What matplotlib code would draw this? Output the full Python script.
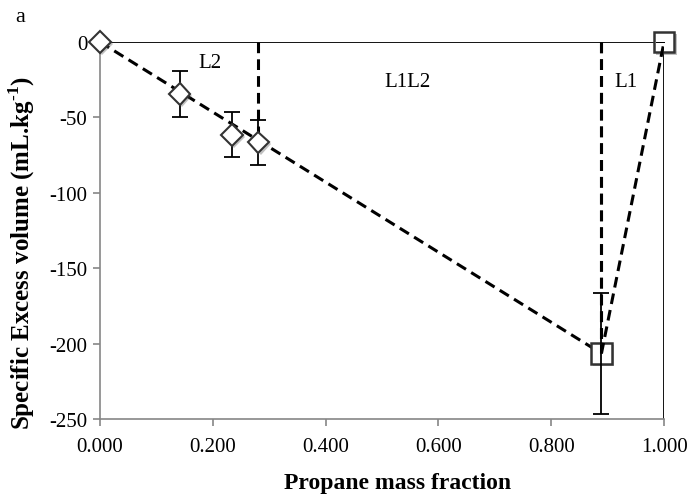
import matplotlib
matplotlib.use('Agg')
import matplotlib.pyplot as plt
import matplotlib.patheffects as pe
from matplotlib.ticker import FormatStrFormatter

plt.rcParams['font.family'] = ['Liberation Serif', 'DejaVu Serif']
plt.rcParams['axes.unicode_minus'] = False
plt.rcParams['mathtext.fontset'] = 'custom'
plt.rcParams['mathtext.rm'] = 'Liberation Serif:bold'
plt.rcParams['mathtext.bf'] = 'Liberation Serif:bold'

# measured points (L2 phase side)
frac_l2 = [0.0, 0.141, 0.234, 0.281]
vol_l2 = [0.0, -34.5, -61.5, -66.5]
err_l2 = [0.0, 15.0, 15.0, 15.0]

# L1 side points
frac_l1 = [0.889, 1.0]
vol_l1 = [-206.5, 0.0]
err_l1 = [40.0, 0.0]

# phase boundary lines
bound_x = [0.281, 0.889]
bound_y = [-66.5, -206.5]

region_labels = ['L2', 'L1L2', 'L1']
region_x = [0.195, 0.546, 0.933]
region_y = [-13.5, -26, -26.5]

fig = plt.figure(figsize=(6.91, 5.02), dpi=100)
ax = fig.add_axes([0.1447, 0.1633, 0.8163, 0.751])

dash = dict(color='black', lw=2.2, dashes=(3.5, 2))
# tie lines
ax.plot([frac_l2[0], frac_l1[0]], [vol_l2[0], vol_l1[0]], **dash, zorder=3)
for bx, by in zip(bound_x, bound_y):
    ax.plot([bx, bx], [0, by], **dash, zorder=3)

# solid frame lines at top and right
ax.plot([0, 1], [0, 0], color='black', lw=1.3, zorder=2)
ax.plot([1, 1], [0, -250], color='black', lw=1.3, zorder=2)

shadow = [pe.SimplePatchShadow(offset=(1.5, -1.5), alpha=0.35), pe.Normal()]
ax.errorbar(frac_l2, vol_l2, yerr=err_l2, fmt='none', ecolor='black',
            elinewidth=1.3, capsize=6, capthick=1.3, zorder=4)
ax.plot(frac_l2, vol_l2, 'D', ms=11, mfc='white', mec='#333333', mew=1.5, zorder=5,
        path_effects=shadow, clip_on=False)
ax.plot(frac_l1, vol_l1, 's', ms=15, mfc='white', mec='#333333', mew=1.8, zorder=5,
        path_effects=shadow, clip_on=False)
ax.errorbar(frac_l1, vol_l1, yerr=err_l1, fmt='none', ecolor='black',
            elinewidth=1.3, capsize=6, capthick=1.3, zorder=6)
ax.plot([frac_l1[0], frac_l1[1]], [vol_l1[0], vol_l1[1]], **dash, zorder=6)
ax.plot([bound_x[1], bound_x[1]], [0, bound_y[1]], **dash, zorder=6)

for t, x, y in zip(region_labels, region_x, region_y):
    ax.text(x, y, t, fontsize=15, ha='center', va='center')

ax.set_xlim(0, 1)
ax.set_ylim(-250, 0)
ax.set_xticks([0, 0.2, 0.4, 0.6, 0.8, 1.0])
ax.set_yticks([-250, -200, -150, -100, -50, 0])
ax.xaxis.set_major_formatter(FormatStrFormatter('%.3f'))
for s in ['top', 'right']:
    ax.spines[s].set_visible(False)
for s in ['left', 'bottom']:
    ax.spines[s].set_color('#868686')
    ax.spines[s].set_linewidth(1.2)
ax.tick_params(direction='out', length=5, color='#868686', labelsize=15, width=1.2)
ax.tick_params(axis='x', pad=8)
ax.tick_params(axis='y', pad=4)
ax.set_xlabel('Propane mass fraction', fontsize=17, fontweight='bold')
ax.set_ylabel(r'Specific Excess volume (mL.kg$^{\text{-1}}$)', fontsize=18,
              fontweight='bold')
ax.xaxis.set_label_coords(0.528, -0.14)
ax.yaxis.set_label_coords(-0.112, 0.443)
fig.text(0.022, 0.985, 'a', fontsize=16, va='top')

plt.savefig('out.png', dpi=100)
